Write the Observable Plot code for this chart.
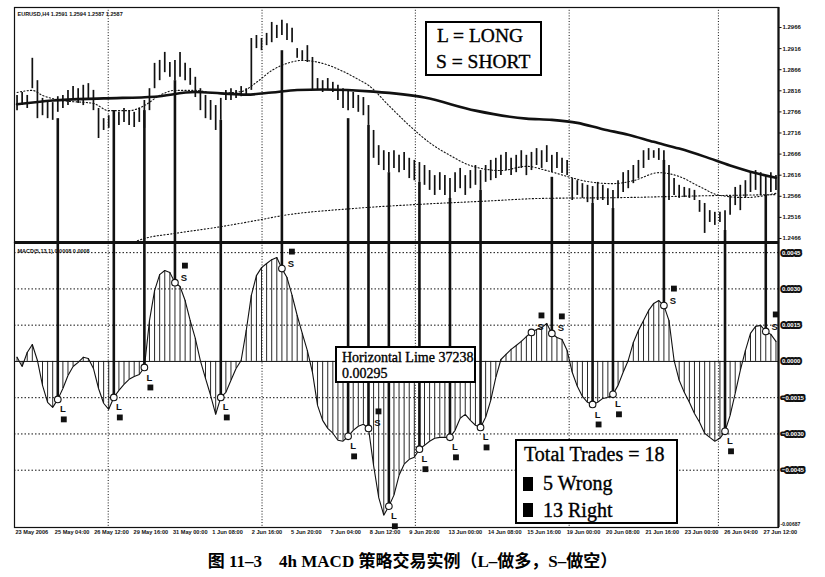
<!DOCTYPE html>
<html><head><meta charset="utf-8">
<script src="https://cdn.jsdelivr.net/npm/d3@7"></script>
<script src="https://cdn.jsdelivr.net/npm/@observablehq/plot@0.6"></script>
<style>
body{margin:0;background:#fff;}
#wrap{position:relative;width:825px;height:577px;overflow:hidden;background:#fff;}
#top,#bot{position:absolute;left:0;}
#top{top:0}
#bot{top:239px}
.box{position:absolute;border:2px solid #000;background:#fff;box-sizing:border-box;}
.t{position:absolute;white-space:nowrap;font-family:"Liberation Serif","Times New Roman",serif;color:#000;-webkit-text-stroke:0.35px #000;}
.sq{position:absolute;background:#000;}
#cap{position:absolute;left:0;width:825px;top:547px;line-height:20px;text-align:center;font:bold 17px "Liberation Serif","Noto Sans CJK SC",serif;color:#000;}
</style></head><body>
<div id="wrap">
  <div id="top"></div>
  <div id="bot"></div>
  <div class="box" style="left:425px;top:21px;width:117px;height:55px;"></div>
  <div class="t" style="left:437px;top:25.5px;font-size:19.5px;line-height:19.5px;">L = LONG</div>
  <div class="t" style="left:436px;top:51.5px;font-size:19.5px;line-height:19.5px;">S = SHORT</div>

  <div class="box" style="left:335px;top:346px;width:141px;height:37px;"></div>
  <div class="t" style="left:342px;top:351px;font-size:14px;line-height:14px;">Horizontal Lime 37238</div>
  <div class="t" style="left:342px;top:367px;font-size:14px;line-height:14px;">0.00295</div>

  <div class="box" style="left:515px;top:439px;width:163px;height:85px;"></div>
  <div class="t" style="left:524px;top:444px;font-size:20px;line-height:20px;">Total Trades = 18</div>
  <div class="sq" style="left:523px;top:477px;width:10px;height:14px;"></div>
  <div class="t" style="left:543px;top:473px;font-size:20px;line-height:20px;">5 Wrong</div>
  <div class="sq" style="left:523px;top:503px;width:10px;height:14px;"></div>
  <div class="t" style="left:543px;top:500px;font-size:20px;line-height:20px;">13 Right</div>

  <div id="cap">图 11–3　4h MACD 策略交易实例（L–做多，S–做空）</div>
</div>
<script>
// ---------- data (EURUSD H4, bar index 0..149) ----------
const high = [
1.2805,1.2812,1.2805,1.2893,1.2840,1.2798,1.2793,1.2788,1.2802,1.2805,
1.2817,1.2826,1.2821,1.2829,1.2833,1.2817,1.2774,1.2750,1.2757,1.2769,
1.2765,1.2774,1.2769,1.2765,1.2774,1.2793,1.2821,1.2881,1.2888,1.2907,
1.2883,1.2888,1.2907,1.2881,1.2869,1.2848,1.2821,1.2805,1.2793,1.2781,
1.2798,1.2817,1.2821,1.2817,1.2826,1.2821,1.2940,1.2947,1.2940,1.2952,
1.2978,1.2971,1.2983,1.2975,1.2964,1.2916,1.2911,1.2923,1.2895,1.2845,
1.2840,1.2845,1.2836,1.2829,1.2821,1.2817,1.2812,1.2805,1.2800,1.2781,
1.2722,1.2686,1.2674,1.2670,1.2674,1.2663,1.2670,1.2656,1.2651,1.2646,
1.2639,1.2627,1.2615,1.2622,1.2615,1.2608,1.2622,1.2632,1.2615,1.2627,
1.2639,1.2627,1.2639,1.2651,1.2656,1.2663,1.2670,1.2656,1.2663,1.2674,
1.2663,1.2670,1.2679,1.2674,1.2686,1.2663,1.2670,1.2656,1.2651,1.2608,
1.2603,1.2596,1.2592,1.2589,1.2599,1.2592,1.2584,1.2580,1.2603,1.2622,
1.2627,1.2639,1.2651,1.2674,1.2679,1.2674,1.2679,1.2674,1.2639,1.2608,
1.2592,1.2587,1.2584,1.2580,1.2556,1.2549,1.2532,1.2528,1.2528,1.2532,
1.2568,1.2587,1.2592,1.2603,1.2622,1.2627,1.2622,1.2615,1.2622,1.2615];
const low = [
1.2769,1.2781,1.2774,1.2821,1.2750,1.2757,1.2750,1.2746,1.2765,1.2774,
1.2781,1.2793,1.2786,1.2781,1.2793,1.2769,1.2703,1.2722,1.2727,1.2734,
1.2734,1.2741,1.2734,1.2729,1.2741,1.2727,1.2769,1.2821,1.2840,1.2859,
1.2848,1.2840,1.2848,1.2840,1.2829,1.2800,1.2769,1.2750,1.2746,1.2722,
1.2746,1.2793,1.2793,1.2798,1.2802,1.2805,1.2817,1.2916,1.2911,1.2923,
1.2930,1.2940,1.2947,1.2935,1.2930,1.2893,1.2888,1.2883,1.2817,1.2817,
1.2812,1.2817,1.2812,1.2793,1.2774,1.2769,1.2774,1.2765,1.2757,1.2734,
1.2656,1.2639,1.2627,1.2622,1.2632,1.2622,1.2627,1.2608,1.2603,1.2599,
1.2592,1.2580,1.2568,1.2580,1.2568,1.2561,1.2575,1.2584,1.2568,1.2584,
1.2592,1.2580,1.2599,1.2603,1.2608,1.2615,1.2627,1.2615,1.2622,1.2632,
1.2615,1.2627,1.2639,1.2632,1.2646,1.2622,1.2632,1.2620,1.2615,1.2556,
1.2568,1.2561,1.2551,1.2549,1.2556,1.2556,1.2544,1.2537,1.2561,1.2575,
1.2584,1.2596,1.2608,1.2632,1.2651,1.2656,1.2651,1.2639,1.2556,1.2568,
1.2561,1.2563,1.2561,1.2556,1.2528,1.2478,1.2504,1.2497,1.2504,1.2485,
1.2521,1.2544,1.2532,1.2561,1.2575,1.2580,1.2568,1.2568,1.2575,1.2580];
const macd = [
0.00017,-0.00021,0.00037,0.0007,0.00004,-0.00099,-0.00169,-0.0019,-0.00157,-0.00112,
-0.00058,-0.00021,-0.00004,0.00017,0.00012,-0.00029,-0.00112,-0.00173,-0.00198,-0.00149,
-0.0012,-0.00095,-0.00074,-0.00062,-0.00054,-0.00025,0.00169,0.00293,0.00359,0.00376,
0.00368,0.00326,0.0031,0.00252,0.00169,0.00095,0.00002,-0.0007,-0.0014,-0.00219,
-0.00149,-0.00128,-0.00078,-0.00029,0.00004,0.00128,0.00273,0.00355,0.00388,0.00405,
0.00421,0.0043,0.00384,0.00347,0.00273,0.0019,0.00116,0.00045,-0.00045,-0.00182,
-0.00244,-0.00277,-0.00297,-0.00326,-0.0033,-0.0031,-0.00285,-0.00268,-0.0026,-0.00277,
-0.0043,-0.00562,-0.00636,-0.00599,-0.00553,-0.00471,-0.00425,-0.00405,-0.00396,-0.00363,
-0.00347,-0.0033,-0.00318,-0.00314,-0.00314,-0.00314,-0.00285,-0.00235,-0.00219,-0.00244,
-0.00264,-0.00273,-0.00231,-0.00161,-0.00066,0.00008,0.00029,0.0005,0.00066,0.00083,
0.00103,0.0012,0.00132,0.0014,0.00157,0.00116,0.00099,0.00091,0.00045,-0.00045,
-0.00103,-0.00145,-0.00169,-0.00178,-0.00169,-0.00153,-0.00149,-0.00136,-0.00099,-0.00045,
0.00004,0.00078,0.00128,0.00169,0.00211,0.0024,0.00252,0.00231,0.00169,0.00004,
-0.00078,-0.00128,-0.00169,-0.00215,-0.00252,-0.00297,-0.00314,-0.0033,-0.00318,-0.00289,
-0.00223,-0.00132,-0.00037,0.00045,0.00116,0.00145,0.00149,0.00124,0.00112,0.00083];

// moving averages (sampled at bar indices)
const maSlowIdx = [0,7,17,27,35,40,45,50,55,60,70,80,90,100,105,110,115,120,125,130,135,140,145,149];
const maSlowVal = [1.2784,1.2793,1.2798,1.2802,1.2813,1.2810,1.2807,1.2812,1.2818,1.2819,1.2814,1.2800,1.2769,1.2750,1.2747,1.2740,1.2725,1.2712,1.2695,1.2679,1.2660,1.2639,1.2621,1.2610];
const maFastIdx = [0,3,5,9,15,18,22,25,28,31,35,39,44,47,50,53,56,60,64,67,69,73,77,81,85,89,95,100,104,108,112,117,121,126,130,134,138,143,149];
const maFastVal = [1.2812,1.2817,1.2805,1.2793,1.2786,1.2769,1.2769,1.2781,1.2805,1.2817,1.2817,1.2810,1.2814,1.2836,1.2864,1.2881,1.2888,1.2881,1.2862,1.2843,1.2829,1.2781,1.2734,1.2693,1.2663,1.2639,1.2627,1.2637,1.2627,1.2613,1.2601,1.2596,1.2603,1.2622,1.2613,1.2589,1.2568,1.2563,1.2573];
const maLongIdx = [23,25,31,40,48,52,66,79,91,103,119,134,149];
const maLongVal = [1.2458,1.2466,1.2478,1.2494,1.2511,1.2520,1.2537,1.2547,1.2554,1.2561,1.2563,1.2567,1.2570];

// trade signals
const sigIdx  = [8,19,25,31,40,52,65,69,73,79,85,91,101,105,113,117,127,139,147];
const sigType = ["L","L","L","S","L","S","L","S","L","L","L","L","S","S","L","L","S","L","S"];
const sigTop  = [1.2750,1.2769,1.2769,1.2840,1.2746,1.2911,1.2750,1.2734,1.2622,1.2599,1.2561,1.2580,null,1.2611,1.2549,1.2537,1.2651,1.2485,1.2568];

// axes
const priceTicks = [1.2466,1.2516,1.2566,1.2616,1.2666,1.2716,1.2766,1.2816,1.2866,1.2916,1.2966];
const macdGrid = [0.0045,0.003,0.0015,0,-0.0015,-0.003,-0.0045];
const macdMin = -0.00687, macdMax = 0.00492;
const priceMin = 1.24565, priceMax = 1.30134;
const weekStarts = [17.9,48.1,78.2,108.4,137.7];
const timeLabels = ["23 May 2006","25 May 04:00","26 May 12:00","29 May 16:00","31 May 00:00","1 Jun 08:00","2 Jun 16:00","5 Jun 20:00","7 Jun 04:00","8 Jun 12:00","9 Jun 20:00","13 Jun 00:00","14 Jun 08:00","15 Jun 16:00","19 Jun 00:00","20 Jun 08:00","21 Jun 16:00","23 Jun 00:00","26 Jun 04:00","27 Jun 12:00"];
const labelSpacing = 7.73; // one label every 8 source bars
const header = "EURUSD,H4 1.2591 1.2594 1.2587 1.2587";
const macdHeader = "MACD(5,13,1) 0.0008 0.0008";

// ---------- build ----------
const N = high.length;
const xDomain = [-0.5, N - 0.5];
const bars = d3.range(N).map(i => ({i, high: high[i], low: low[i]}));
const macdRows = macd.map((v, i) => ({i, v}));
const maSlow = maSlowIdx.map((i, k) => ({i, v: maSlowVal[k]}));
const maFast = maFastIdx.map((i, k) => ({i, v: maFastVal[k]}));
const maLong = maLongIdx.map((i, k) => ({i, v: maLongVal[k]}));
const sigs = sigIdx.map((i, k) => ({i, t: sigType[k], top: sigTop[k], v: macd[i]}));
const sigLines = sigs.filter(d => d.top != null);
const sigL = sigs.filter(d => d.t === "L"), sigS = sigs.filter(d => d.t === "S");
const ticksX = timeLabels.map((label, k) => ({label, pos: k * labelSpacing - 0.5}));
const FONT = "'Liberation Sans Narrow','Liberation Sans',Arial,sans-serif";
const dotted = {stroke: "#111", strokeWidth: 1, strokeDasharray: "1,1.8"};

const topPlot = Plot.plot({
  width: 825, height: 242, marginLeft: 14, marginRight: 47, marginTop: 7, marginBottom: 0,
  x: {domain: xDomain, axis: null},
  y: {domain: [priceMin, priceMax], axis: null},
  style: {fontFamily: FONT, background: "transparent", overflow: "visible", color: "#111"},
  marks: [
    Plot.ruleX(weekStarts, dotted),
    Plot.ruleX(bars, {x: "i", y1: "low", y2: "high", stroke: "#111", strokeWidth: 1.7}),
    Plot.line(maLong, {x: "i", y: "v", curve: "monotone-x", stroke: "#111", strokeWidth: 1.1, strokeDasharray: "1.2,2.2"}),
    Plot.line(maFast, {x: "i", y: "v", curve: "monotone-x", stroke: "#111", strokeWidth: 1.1, strokeDasharray: "1.2,2.2"}),
    Plot.line(maSlow, {x: "i", y: "v", curve: "monotone-x", stroke: "#111", strokeWidth: 2.6}),
    Plot.ruleX(sigLines, {x: "i", y1: "top", y2: () => priceMin, stroke: "#111", strokeWidth: 2.6}),
    Plot.frame({stroke: "#111", strokeWidth: 1.2}),
    Plot.ruleX([xDomain[1]], {stroke: "#111", strokeWidth: 2.2}),
    Plot.axisY(priceTicks, {anchor: "right", tickSize: 2.5, tickPadding: 1.5, tickFormat: d3.format(".4f"), fontSize: 6, fontWeight: "bold", label: null}),
    Plot.text([header], {frameAnchor: "top-left", dx: 3, dy: 5, fontSize: 5.5, fontWeight: "bold", textAnchor: "start"})
  ]
});
document.getElementById("top").appendChild(topPlot);

const botPlot = Plot.plot({
  width: 825, height: 301, marginLeft: 14, marginRight: 47, marginTop: 3, marginBottom: 13,
  x: {domain: xDomain, axis: null},
  y: {domain: [macdMin, macdMax], axis: null},
  style: {fontFamily: FONT, background: "transparent", overflow: "visible", color: "#111"},
  marks: [
    Plot.ruleY(macdGrid.filter(d => d !== 0), {stroke: "#111", strokeWidth: 1, strokeDasharray: "1.5,2"}),
    Plot.ruleX(weekStarts, dotted),
    Plot.ruleY([0], {stroke: "#111", strokeWidth: 1}),
    Plot.ruleX(macdRows, {x: "i", y1: 0, y2: "v", stroke: "#111", strokeWidth: 0.9}),
    Plot.line(macdRows, {x: "i", y: "v", stroke: "#111", strokeWidth: 1.1}),
    Plot.ruleX(sigLines, {x: "i", y1: () => macdMax, y2: "v", stroke: "#111", strokeWidth: 2.6}),
    Plot.dot(sigs, {x: "i", y: "v", r: 3.3, fill: "white", stroke: "#111", strokeWidth: 1.1}),
    Plot.text(sigL, {x: "i", y: "v", text: "t", dx: 5, dy: 10, fontSize: 9.5, fontWeight: "bold", fontFamily: "'Liberation Sans',Arial,sans-serif"}),
    Plot.dot(sigL, {x: "i", y: "v", symbol: "square", r: 3.3, fill: "#111", dx: 6, dy: 20}),
    Plot.text(sigS, {x: "i", y: "v", text: "t", dx: 9, dy: -5, fontSize: 9.5, fontWeight: "bold", fontFamily: "'Liberation Sans',Arial,sans-serif"}),
    Plot.dot(sigS, {x: "i", y: "v", symbol: "square", r: 3.3, fill: "#111", dx: 10, dy: -17}),
    Plot.frame({stroke: "#111", strokeWidth: 1.2}),
    Plot.ruleY([macdMax], {stroke: "#111", strokeWidth: 3}),
    Plot.ruleX([xDomain[1]], {stroke: "#111", strokeWidth: 2.2}),
    Plot.text([macdHeader], {frameAnchor: "top-left", dx: 3, dy: 7, fontSize: 5.5, fontWeight: "bold", textAnchor: "start"}),
    Plot.text(macdGrid, {x: () => xDomain[1], y: d => d, text: d3.format(".4f"), dx: 3.5, textAnchor: "start", fontSize: 6, fontWeight: "bold", fill: "white", stroke: "#111", strokeWidth: 4}),
    Plot.text([macdMin], {x: () => xDomain[1], y: d => d, text: d => String(d), dx: 2, dy: -3, textAnchor: "start", fontSize: 5, fontWeight: "bold"}),
    Plot.text(ticksX, {x: "pos", text: "label", frameAnchor: "bottom", dx: 1, dy: 6, textAnchor: "start", fontSize: 5.6, fontWeight: "bold"})
  ]
});
document.getElementById("bot").appendChild(botPlot);
</script>
</body></html>
